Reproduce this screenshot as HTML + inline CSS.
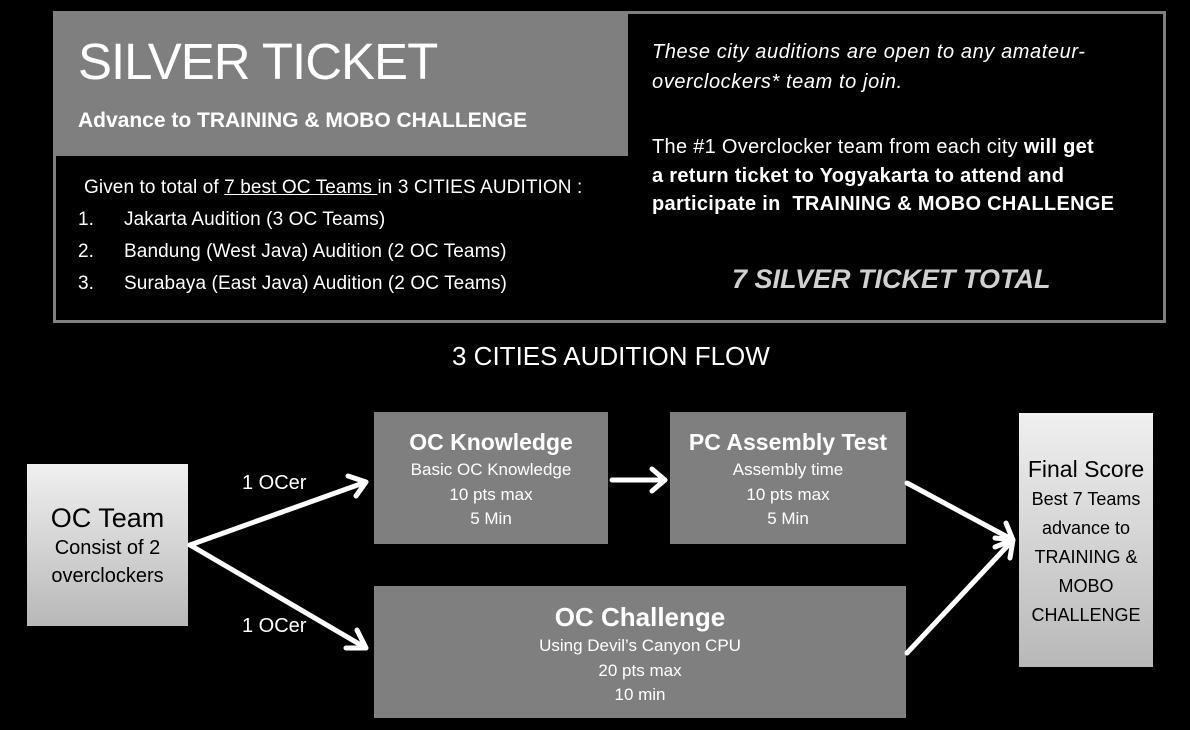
<!DOCTYPE html>
<html><head><style>
body{margin:0;width:1190px;height:730px;background:#000;position:relative;overflow:hidden;font-family:"Liberation Sans",sans-serif;color:#fff}
div{position:absolute;box-sizing:border-box}
.t{white-space:nowrap}
.box{background:#7f7f7f;text-align:center}
.grad{background:linear-gradient(#f0f0f0,#b8b8b8);color:#000;text-align:center}
.l{font-size:19px;letter-spacing:0.1px}
</style></head><body>
<div style="left:53px;top:11px;width:1113px;height:312px;border:3px solid #7f7f7f"></div>
<div style="left:56px;top:14px;width:572px;height:142px;background:#7f7f7f"></div>
<div class="t" style="left:78px;top:32px;font-size:51px;letter-spacing:-1px">SILVER TICKET</div>
<div class="t" style="left:78px;top:109px;font-size:21px;font-weight:bold;letter-spacing:0px">Advance to TRAINING &amp; MOBO CHALLENGE</div>
<div class="t l" style="left:84px;top:177px">Given to total of <u>7 best OC Teams </u>in 3 CITIES AUDITION :</div>
<div class="t l" style="left:78px;top:209px">1.</div>
<div class="t l" style="left:124px;top:209px">Jakarta Audition (3 OC Teams)</div>
<div class="t l" style="left:78px;top:241px">2.</div>
<div class="t l" style="left:124px;top:241px">Bandung (West Java) Audition (2 OC Teams)</div>
<div class="t l" style="left:78px;top:273px">3.</div>
<div class="t l" style="left:124px;top:273px">Surabaya (East Java) Audition (2 OC Teams)</div>
<div class="t" style="left:652px;top:37px;font-size:20px;font-style:italic;line-height:30px;letter-spacing:0.6px">These city auditions are open to any amateur-<br>overclockers* team to join.</div>
<div class="t" style="left:652px;top:133px;font-size:20px;line-height:28.5px;letter-spacing:0.3px">The #1 Overclocker team from each city <b>will get<br>a return ticket to Yogyakarta to attend and<br>participate in&nbsp; TRAINING &amp; MOBO CHALLENGE</b></div>
<div class="t" style="left:732px;top:264px;font-size:27px;font-style:italic;font-weight:bold;color:#d0d0d0;letter-spacing:0px">7 SILVER TICKET TOTAL</div>
<div class="t" style="left:452px;top:341px;font-size:26px;letter-spacing:0px">3 CITIES AUDITION FLOW</div>

<div class="grad" style="left:27px;top:464px;width:161px;height:162px;padding-top:38px"><div style="position:static;font-size:27px;line-height:32px">OC Team</div><div style="position:static;font-size:20px;line-height:28px">Consist of 2<br>overclockers</div></div>
<div class="box" style="left:374px;top:412px;width:234px;height:132px;padding-top:15px;font-size:17px;line-height:24.5px"><div style="position:static;font-size:23px;font-weight:bold;line-height:31px">OC Knowledge</div>Basic OC Knowledge<br>10 pts max<br>5 Min</div>
<div class="box" style="left:670px;top:412px;width:236px;height:132px;padding-top:15px;font-size:17px;line-height:24.5px"><div style="position:static;font-size:23px;font-weight:bold;line-height:31px">PC Assembly Test</div>Assembly time<br>10 pts max<br>5 Min</div>
<div class="box" style="left:374px;top:586px;width:532px;height:132px;padding-top:14px;font-size:17px;line-height:24.5px"><div style="position:static;font-size:26px;font-weight:bold;line-height:34px">OC Challenge</div>Using Devil’s Canyon CPU<br>20 pts max<br>10 min</div>
<div class="grad" style="left:1019px;top:413px;width:134px;height:254px;padding-top:40px;font-size:18px;line-height:29px"><div style="position:static;font-size:23px;line-height:32px">Final Score</div>Best 7 Teams<br>advance to<br>TRAINING &amp;<br>MOBO<br>CHALLENGE</div>
<div class="t" style="left:242px;top:472px;font-size:20px">1 OCer</div>
<div class="t" style="left:242px;top:615px;font-size:20px">1 OCer</div>
<svg width="1190" height="730" style="position:absolute;left:0;top:0" fill="none" stroke="#fff" stroke-width="5" stroke-linecap="round" stroke-linejoin="round">
<path d="M190 545 L366 482 M348 476 L366 482 L356 496"/>
<path d="M190 545 L366 648 M357 630 L366 648 L346 648"/>
<path d="M612 480 L665 480 M652 469 L665 480 L652 491"/>
<path d="M907 483 L1013 540 M995 538 L1013 540 L1006 523"/>
<path d="M907 653 L1013 540 M995 547 L1013 540 L1010 558"/>
</svg>
</body></html>
